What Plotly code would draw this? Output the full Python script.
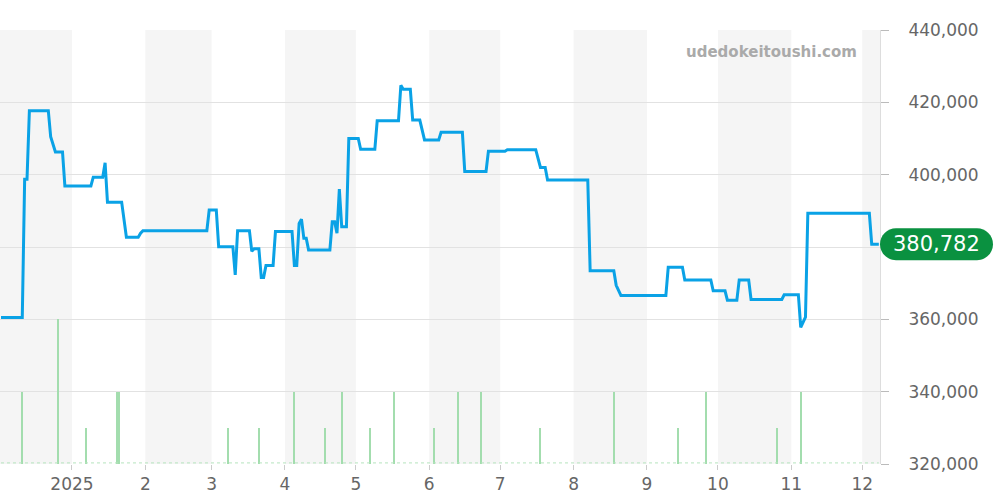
import plotly.graph_objects as go

# ---- price series ----
price_dates = [
    "2024-12-02", "2024-12-11", "2024-12-12", "2024-12-13", "2024-12-14", "2024-12-22",
    "2024-12-23", "2024-12-25", "2024-12-28", "2024-12-29", "2025-01-09", "2025-01-10",
    "2025-01-14", "2025-01-15", "2025-01-16", "2025-01-22", "2025-01-24", "2025-01-29",
    "2025-01-30", "2025-01-31", "2025-02-27", "2025-02-28", "2025-03-03", "2025-03-04",
    "2025-03-10", "2025-03-11", "2025-03-12", "2025-03-17", "2025-03-18", "2025-03-19",
    "2025-03-21", "2025-03-22", "2025-03-23", "2025-03-24", "2025-03-27", "2025-03-28",
    "2025-04-04", "2025-04-05", "2025-04-06", "2025-04-07", "2025-04-08", "2025-04-09",
    "2025-04-10", "2025-04-11", "2025-04-20", "2025-04-21", "2025-04-22", "2025-04-23",
    "2025-04-24", "2025-04-25", "2025-04-27", "2025-04-28", "2025-05-02", "2025-05-03",
    "2025-05-09", "2025-05-10", "2025-05-19", "2025-05-20", "2025-05-21", "2025-05-24",
    "2025-05-25", "2025-05-28", "2025-05-30", "2025-06-05", "2025-06-06", "2025-06-15",
    "2025-06-16", "2025-06-25", "2025-06-26", "2025-07-03", "2025-07-04", "2025-07-16",
    "2025-07-18", "2025-07-20", "2025-07-21", "2025-08-07", "2025-08-08", "2025-08-18",
    "2025-08-19", "2025-08-21", "2025-09-09", "2025-09-10", "2025-09-16", "2025-09-17",
    "2025-09-28", "2025-09-29", "2025-10-04", "2025-10-05", "2025-10-09", "2025-10-10",
    "2025-10-14", "2025-10-15", "2025-10-28", "2025-10-29", "2025-11-04", "2025-11-05",
    "2025-11-07", "2025-11-08", "2025-12-04", "2025-12-05", "2025-12-08",
]
price_values = [
    360500, 360500, 398700, 398700, 417700, 417700,
    410500, 406300, 406300, 396900, 396900, 399300,
    399300, 403300, 392400, 392400, 382700, 382700,
    383800, 384500, 384500, 390200, 390200, 380100,
    380100, 372300, 384500, 384500, 378800, 379500,
    379500, 371600, 371600, 374900, 374900, 384300,
    384300, 374900, 374900, 386500, 387700, 382400,
    382400, 379200, 379200, 387000, 387000, 383800,
    396000, 385600, 385600, 410000, 410000, 407000,
    407000, 414900, 414900, 424700, 423600, 423600,
    415100, 415100, 409600, 409600, 411700, 411700,
    400900, 400900, 406500, 406500, 406900, 406900,
    402000, 402000, 398500, 398500, 373400, 373400,
    369400, 366600, 366600, 374400, 374400, 370900,
    370900, 367900, 367900, 365300, 365300, 370900,
    370900, 365500, 365500, 366800, 366800, 357800,
    360600, 389300, 389300, 380782, 380782,
]
last_price = price_values[-1]

# ---- trade volume (count per day) ----
volume_dates = [
    "2024-12-11", "2024-12-26", "2025-01-07", "2025-01-20", "2025-01-21", "2025-03-08",
    "2025-03-21", "2025-04-05", "2025-04-18", "2025-04-25", "2025-05-07", "2025-05-17",
    "2025-06-03", "2025-06-13", "2025-06-23", "2025-07-18", "2025-08-18", "2025-09-14",
    "2025-09-26", "2025-10-26", "2025-11-05",
]
volume_counts = [2, 4, 1, 2, 2, 1, 1, 2, 1, 2, 1, 2, 1, 2, 2, 1, 2, 1, 2, 1, 2]

# ---- axis ticks and shaded months ----
tick_dates = ["2025-01-01", "2025-02-01", "2025-03-01", "2025-04-01", "2025-05-01", "2025-06-01",
              "2025-07-01", "2025-08-01", "2025-09-01", "2025-10-01", "2025-11-01", "2025-12-01"]
tick_labels = ["2025", "2", "3", "4", "5", "6", "7", "8", "9", "10", "11", "12"]
band_starts = ["2024-12-01", "2025-02-01", "2025-04-01", "2025-06-01", "2025-08-01", "2025-10-01", "2025-12-01"]
band_ends = ["2025-01-01", "2025-03-01", "2025-05-01", "2025-07-01", "2025-09-01", "2025-11-01", "2026-01-01"]
x_range = ["2024-12-01 14:00", "2025-12-08 12:00"]
y_range = [320000, 440000]
y_ticks = [320000, 340000, 360000, 380000, 400000, 420000, 440000]
# the 380,000 label sits under the price badge in the reference
y_tick_labels = ["320,000", "340,000", "360,000", "", "400,000", "420,000", "440,000"]

FONT = "DejaVu Sans"
fig = go.Figure()

fig.add_trace(go.Bar(
    x=volume_dates, y=volume_counts, yaxis="y2",
    marker=dict(color="#a3ddae", line=dict(width=0)),
    width=0.5 * 86400000, hoverinfo="skip",
))
fig.add_trace(go.Scatter(
    x=[price_dates[0], price_dates[-1]], y=[0.03, 0.03], yaxis="y2", mode="lines",
    line=dict(color="#b5e4bd", width=1, dash="dot"), hoverinfo="skip",
))
fig.add_trace(go.Scatter(
    x=price_dates, y=price_values, mode="lines",
    line=dict(color="#0aa2e6", width=3), hoverinfo="skip",
))

shapes = []
for s, e in zip(band_starts, band_ends):
    shapes.append(dict(type="rect", xref="x", yref="paper", x0=s, x1=e, y0=0, y1=1,
                       fillcolor="#f5f5f5", line=dict(width=0), layer="below"))
# price badge (pill)
shapes.append(dict(
    type="path", xref="paper", yref="y", xsizemode="pixel", ysizemode="pixel",
    xanchor=1, yanchor=last_price,
    path="M 16,-16 L 97,-16 C 105.8,-16 113,-8.8 113,0 C 113,8.8 105.8,16 97,16 "
         "L 16,16 C 7.2,16 0,8.8 0,0 C 0,-8.8 7.2,-16 16,-16 Z",
    fillcolor="#0a9140", line=dict(width=0), layer="above",
))

annotations = [
    dict(text=f"{last_price:,}", xref="paper", yref="y", x=1, y=last_price,
         xanchor="center", yanchor="middle", xshift=56.5, showarrow=False,
         font=dict(family=FONT, size=21, color="white")),
    dict(text="<b>udedokeitoushi.com</b>", xref="paper", yref="paper", x=1, y=1,
         xanchor="right", yanchor="middle", xshift=-21, yshift=-22, showarrow=False,
         font=dict(family=FONT, size=15, color="#aaaaaa")),
]

fig.update_layout(
    width=1000, height=500,
    margin=dict(l=0, r=120, t=30, b=36),
    paper_bgcolor="white", plot_bgcolor="white",
    showlegend=False, bargap=0,
    shapes=shapes, annotations=annotations,
    font=dict(family=FONT, color="#666666"),
    xaxis=dict(type="date", range=x_range, tickvals=tick_dates, ticktext=tick_labels,
               showgrid=False, zeroline=False, ticks="outside", ticklen=5,
               tickcolor="#cccccc", tickfont=dict(size=17, color="#666666"),
               showline=False),
    yaxis=dict(side="right", range=y_range, tickvals=y_ticks, ticktext=y_tick_labels,
               showgrid=True, gridcolor="#e2e2e2", gridwidth=1, zeroline=False,
               ticks="outside", ticklen=8, tickcolor="#bbbbbb",
               showline=True, linecolor="#dddddd", linewidth=1,
               ticklabelstandoff=16,
               tickfont=dict(size=17, color="#666666")),
    yaxis2=dict(overlaying="y", range=[0, 12], visible=False, showgrid=False),
)

fig.write_html("out.html", config={"displayModeBar": False},
               post_script="document.body.style.margin='0';")
